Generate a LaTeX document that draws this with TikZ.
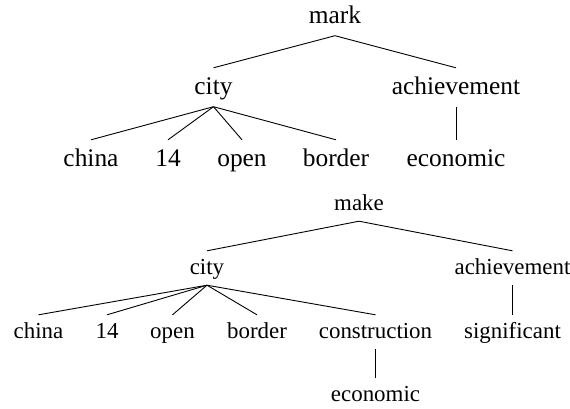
\documentclass[tikz,border=0pt]{standalone}
\usepackage{fontspec}
\setmainfont{Liberation Serif}
\begin{document}
\begin{tikzpicture}[x=1bp,y=-1bp,
  big/.style={font=\fontsize{25.5}{30}\selectfont, inner sep=0pt, text height=26bp, text depth=12.5bp, anchor=base},
  small/.style={font=\fontsize{23}{27}\selectfont, inner sep=0pt, text height=23bp, text depth=11bp, anchor=base},
  edge/.style={line width=0.9bp}]
\useasboundingbox (0,0) rectangle (570,408);
% top tree
\node[big] (m1) at (335,23) {mark};
\node[big] (c1) at (213.5,94) {city};
\node[big] (a1) at (456,94) {achievement};
\node[big] (t1) at (91,166) {china};
\node[big] (t2) at (168,166) {14};
\node[big] (t3) at (242,166) {open};
\node[big] (t4) at (336,166) {border};
\node[big] (t5) at (456,166) {economic};
\draw[edge] (m1.south) -- (c1.north);
\draw[edge] (m1.south) -- (a1.north);
\draw[edge] (c1.south) -- (t1.north);
\draw[edge] (c1.south) -- (t2.north);
\draw[edge] (c1.south) -- (t3.north);
\draw[edge] (c1.south) -- (t4.north);
\draw[edge] (a1.south) -- (t5.north);
% bottom tree
\node[small] (m2) at (359,210) {make};
\node[small] (c2) at (207,274) {city};
\node[small] (a2) at (512.5,274) {achievement};
\node[small] (b1) at (38.5,338) {china};
\node[small] (b2) at (107,338) {14};
\node[small] (b3) at (172.5,338) {open};
\node[small] (b4) at (257,338) {border};
\node[small] (b5) at (375.5,338) {construction};
\node[small] (b6) at (512.5,338) {significant};
\node[small] (b7) at (375.5,401) {economic};
\draw[edge] (m2.south) -- (c2.north);
\draw[edge] (m2.south) -- (a2.north);
\draw[edge] (c2.south) -- (b1.north);
\draw[edge] (c2.south) -- (b2.north);
\draw[edge] (c2.south) -- (b3.north);
\draw[edge] (c2.south) -- (b4.north);
\draw[edge] (c2.south) -- (b5.north);
\draw[edge] (a2.south) -- (b6.north);
\draw[edge] (b5.south) -- (b7.north);
\end{tikzpicture}
\end{document}
